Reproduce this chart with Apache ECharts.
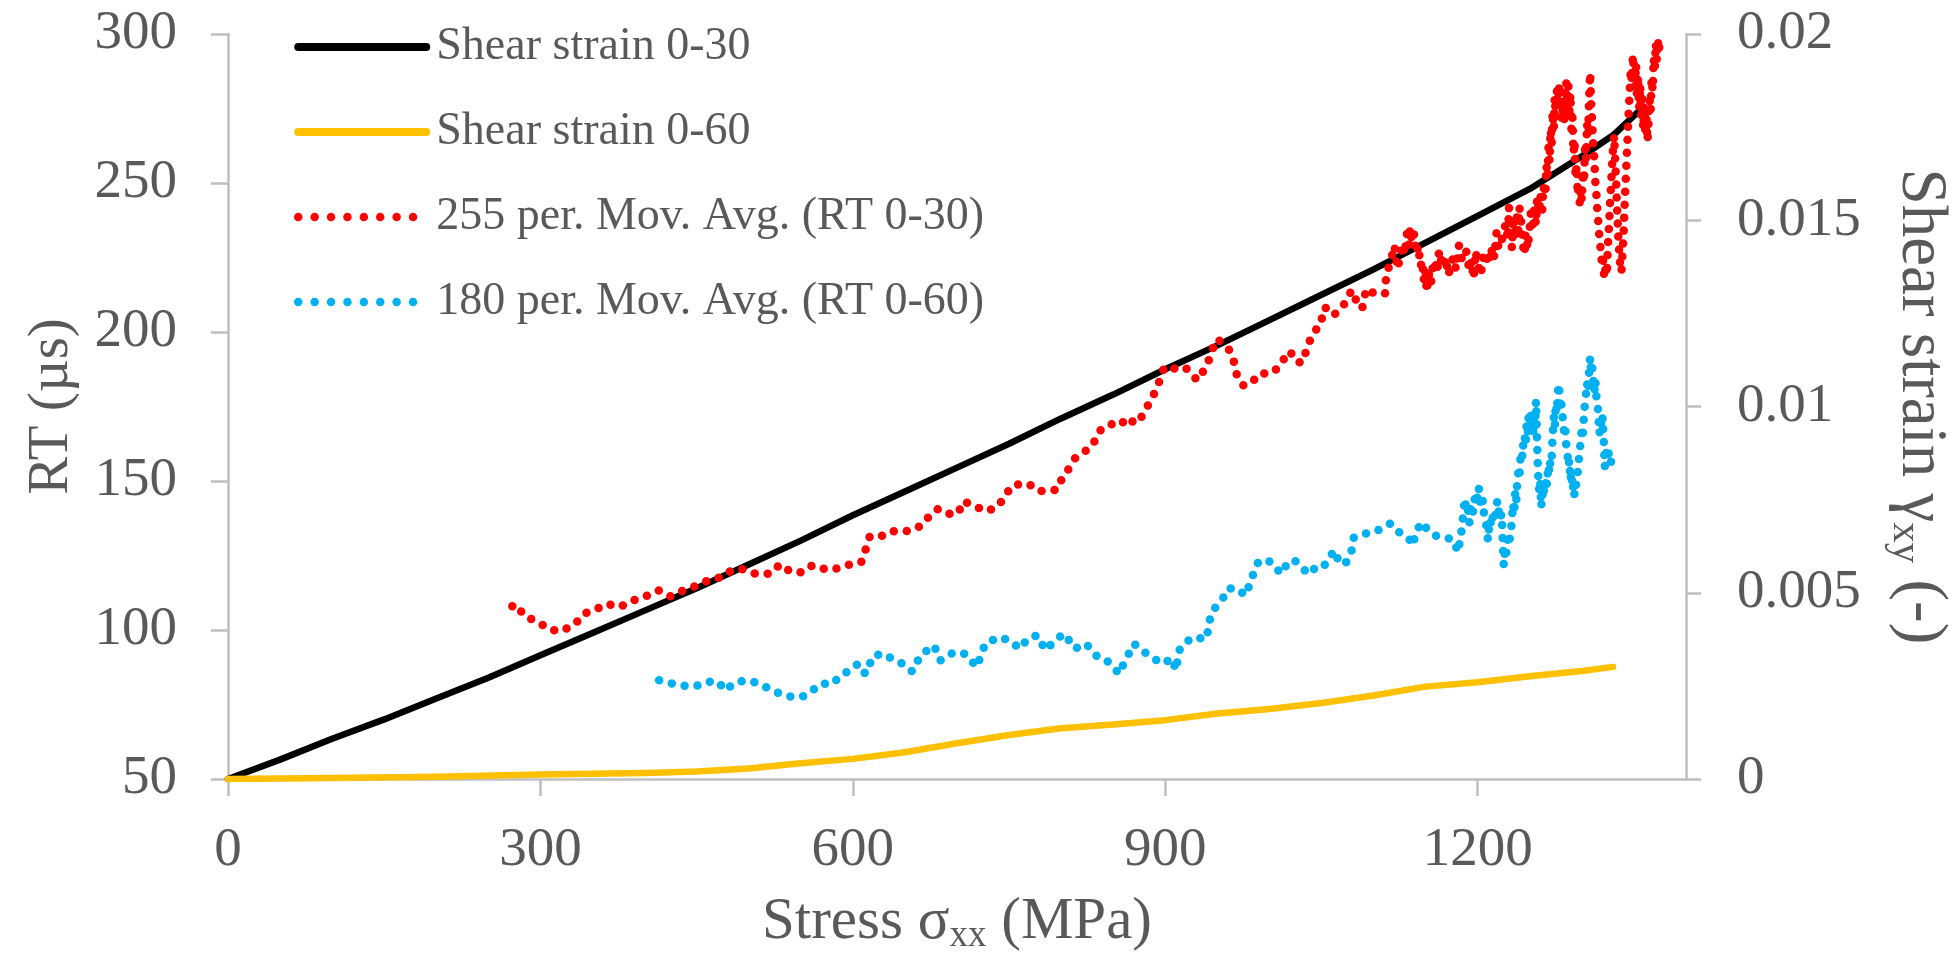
<!DOCTYPE html>
<html>
<head>
<meta charset="utf-8">
<title>RT and shear strain vs. stress</title>
<script src="https://cdn.jsdelivr.net/npm/echarts@6/dist/echarts.min.js"></script>
<style>
  html, body { margin: 0; padding: 0; background: #ffffff; }
  #chart { width: 1952px; height: 955px; }
</style>
</head>
<body>
<div id="chart"></div>
<script>
// ---- Series names ----
const NAME_STRAIN_030 = 'Shear strain 0-30';
const NAME_STRAIN_060 = 'Shear strain 0-60';
const NAME_RT_030 = '255 per. Mov. Avg. (RT 0-30)';
const NAME_RT_060 = '180 per. Mov. Avg. (RT 0-60)';

// ---- Axis ticks ----
const stressTicks = [0, 300, 600, 900, 1200];

// ---- Shear strain 0-30: [stress (MPa), strain (-)] ----
const strain030 = [
  [0, 0], [50, 0.00052], [100, 0.00108], [150, 0.0016], [200, 0.00216],
  [250, 0.00272], [300, 0.00332], [350, 0.00392], [400, 0.00452], [450, 0.00512],
  [500, 0.00576], [550, 0.0064], [600, 0.00708], [650, 0.00772], [700, 0.00836],
  [750, 0.009], [800, 0.00968], [850, 0.01032], [900, 0.011], [950, 0.01164],
  [1000, 0.01232], [1050, 0.013], [1100, 0.01368], [1150, 0.0144], [1200, 0.01512],
  [1250, 0.01584], [1300, 0.01672], [1330, 0.01728], [1356, 0.01796]
];

// ---- Shear strain 0-60: [stress (MPa), strain (-)] ----
const strain060 = [
  [0, 0], [100, 0.00003], [200, 0.00006], [300, 0.00012], [400, 0.00016],
  [450, 0.0002], [500, 0.00028], [550, 0.00042], [600, 0.00054], [650, 0.00072],
  [700, 0.00096], [750, 0.00118], [800, 0.00136], [850, 0.00146], [900, 0.00158],
  [950, 0.00176], [1000, 0.00188], [1050, 0.00204], [1100, 0.00224], [1150, 0.00248],
  [1200, 0.0026], [1250, 0.00276], [1300, 0.0029], [1330, 0.00301]
];

// ---- 255 per. moving average of RT 0-30: [stress (MPa), RT (µs)] ----
const rtAvg030 = [
  [273, 108], [277, 108.6], [284, 104.9], [298, 102.6], [309, 100.1], [320, 99.6],
  [333, 101.9], [342, 105.5], [354, 107.1], [364, 108.8], [376, 107.7], [391, 110.2],
  [401, 111.3], [414, 113.3], [425, 111.3], [433, 112.7], [445, 114.2], [457, 116.1],
  [471, 117.5], [479, 119.4], [492, 120.6], [506, 118.9], [521, 118.9], [530, 122],
  [541, 119.4], [552, 119.4], [561, 121.7], [570, 120.6], [580, 120.2], [596, 121.9],
  [608, 122.8], [613, 127.8], [616, 131.2], [625, 131], [635, 133.1], [647, 133.1],
  [656, 133.4], [666, 135.1], [674, 138.5], [682, 140.7], [696, 138.5], [702, 139.9],
  [706, 143.2], [718, 141.5], [727, 139.9], [737, 140.9], [745, 144.1], [752, 148.3],
  [764, 149.3], [774, 148.2], [779, 146.6], [787, 146.8], [796, 147], [800, 150.2],
  [808, 154.5], [813, 157.5], [819, 158.9], [825, 160.5], [831, 162.3], [834, 165.3],
  [839, 167.5], [846, 168.3], [851, 169.8], [858, 169.2], [864, 171.3], [871, 169.2],
  [876, 170.9], [881, 173.7], [884, 175.9], [890, 179.8], [896, 184.9], [899, 188.2],
  [908, 187.7], [919, 188.2], [926, 185.4], [931, 183.8], [935, 186], [941, 189.6],
  [944, 193.3], [950, 197.7], [955, 196.1], [962, 193.8], [966, 189.9], [969, 185.1],
  [975, 182.1], [981, 184], [990, 184], [997, 186.9], [1006, 187.3], [1014, 191],
  [1020, 193.6], [1024, 190.5], [1031, 189.6], [1035, 193.3], [1037, 195.8], [1043, 200],
  [1050, 203], [1051, 207.8], [1058, 208.4], [1063, 206.1], [1071, 208.9], [1079, 214],
  [1084, 210], [1089, 207.8], [1093, 214.5], [1101, 212.9], [1111, 212.9], [1112, 218.4],
  [1115, 222.3], [1118, 226], [1120, 229], [1123, 221.2], [1126, 226], [1128, 229.6],
  [1130, 226], [1132, 233], [1134, 229], [1135, 235], [1137, 230.2], [1139, 233],
  [1141, 226.3], [1143, 229], [1145, 222], [1147, 224], [1148, 217.3], [1150, 221],
  [1151, 213.4], [1153, 219.6], [1155, 216], [1157, 222], [1159, 224], [1161, 220],
  [1163, 227.4], [1165, 224], [1167, 221.8], [1169, 225], [1172, 219], [1174, 223],
  [1177, 225.1], [1179, 221], [1182, 229], [1184, 225], [1187, 224], [1189, 227],
  [1192, 220.7], [1194, 224], [1196, 218], [1198, 227.1], [1200, 223], [1203, 219],
  [1205, 225], [1208, 222.7], [1210, 227], [1212, 224], [1214, 228.5], [1216, 225],
  [1218, 233.2], [1220, 228], [1223, 230.7], [1225, 234], [1227, 236.3], [1229, 231],
  [1230, 241.9], [1231, 232], [1233, 228], [1234, 237], [1236, 231], [1237, 240],
  [1239, 234], [1240, 242], [1242, 236], [1243, 230], [1245, 226], [1246, 233],
  [1248, 228], [1250, 235], [1251, 240], [1253, 234], [1254, 241], [1256, 236],
  [1257, 245], [1259, 240], [1260, 246], [1262, 241], [1263, 249], [1265, 246],
  [1266, 256], [1267, 252], [1268, 262], [1269, 257], [1270, 268], [1271, 263],
  [1272, 274], [1273, 268], [1274, 279], [1275, 272], [1276, 281], [1277, 276],
  [1278, 283], [1279, 275], [1280, 281], [1281, 271], [1282, 278], [1283, 270],
  [1284, 280], [1285, 284], [1286, 277], [1287, 283], [1288, 274], [1289, 280],
  [1290, 268], [1291, 272], [1292, 260], [1293, 264], [1294, 252], [1295, 256],
  [1296, 246], [1297, 250], [1298, 243], [1299, 248], [1300, 244], [1301, 254],
  [1302, 250], [1303, 262], [1304, 258], [1305, 270], [1306, 266], [1307, 279],
  [1308, 287], [1309, 276], [1310, 270], [1311, 262], [1312, 258], [1313, 250],
  [1314, 246], [1315, 240], [1316, 236], [1317, 231], [1318, 228], [1319, 224],
  [1320, 226], [1321, 220], [1322, 218], [1323, 223], [1324, 219], [1325, 229],
  [1326, 235], [1327, 243], [1328, 249], [1329, 256], [1330, 262], [1331, 266],
  [1332, 258], [1333, 250], [1334, 240], [1335, 232], [1336, 226], [1337, 222],
  [1338, 220], [1339, 226], [1340, 232], [1341, 242], [1342, 250], [1343, 258],
  [1344, 266], [1345, 274], [1346, 281], [1347, 288], [1348, 284], [1349, 293],
  [1350, 287], [1351, 282], [1352, 290], [1353, 278], [1354, 286], [1355, 275],
  [1356, 283], [1357, 272], [1358, 279], [1359, 268], [1360, 276], [1361, 266],
  [1362, 272], [1363, 264], [1364, 270], [1365, 278], [1366, 274], [1367, 285],
  [1368, 281], [1369, 292], [1370, 288], [1371, 297], [1372, 291], [1373, 298],
  [1374, 294], [1375, 299.5]
];

// ---- 180 per. moving average of RT 0-60: [stress (MPa), RT (µs)] ----
const rtAvg060 = [
  [414, 83.1], [427, 82], [441, 81.1], [453, 81.4], [463, 82.7], [470, 82.8],
  [478, 79.7], [485, 82], [496, 83.1], [509, 82.2], [517, 80.8], [526, 79.2],
  [535, 78], [543, 77.5], [551, 77.5], [558, 78.8], [569, 82], [581, 82],
  [588, 84.8], [599, 86.7], [605, 88.7], [612, 85.3], [620, 91.5], [631, 92],
  [639, 89.8], [648, 88.7], [657, 86.1], [665, 91.5], [678, 94.8], [684, 89.8],
  [697, 92.6], [708, 92], [719, 87.6], [727, 95.4], [740, 97.6], [751, 96.5],
  [760, 93.7], [768, 97.1], [777, 98.2], [785, 93.2], [794, 96.5], [803, 98.8],
  [813, 93.7], [824, 95.4], [833, 91.5], [842, 90.4], [856, 85.3], [860, 88.7],
  [870, 95.4], [877, 93.4], [884, 91.5], [897, 88.7], [907, 90.4], [910, 86.4],
  [914, 93.7], [925, 97.4], [940, 97.1], [941, 100.4], [943, 103.8], [949, 108.3],
  [956, 111], [960, 113.9], [969, 113.9], [977, 111.6], [980, 114.4], [984, 118.3],
  [988, 122.2], [993, 123.6], [1002, 122.8], [1011, 118.9], [1017, 122.2], [1023, 123.6],
  [1030, 121.7], [1037, 118.7], [1045, 121.1], [1052, 121.1], [1056, 124], [1063, 126.7],
  [1067, 122.2], [1074, 122.8], [1080, 127.6], [1081, 131], [1092, 132.3], [1100, 132.9],
  [1111, 134.5], [1116, 135.7], [1124, 132.9], [1133, 131.2], [1138, 128.4], [1140, 132.3],
  [1146, 136.2], [1151, 134], [1159, 131.7], [1170, 131], [1177, 130.1], [1181, 126.1],
  [1183, 130], [1184, 131.7], [1185, 136], [1186, 138], [1187, 142], [1188, 144.1],
  [1189, 139], [1191, 140.1], [1192, 136], [1193, 141], [1195, 138.5], [1197, 144],
  [1199, 142], [1200, 146], [1201, 148], [1203, 141], [1205, 143.5], [1206, 139],
  [1208, 136], [1209, 132], [1210, 130.1], [1211, 135], [1212, 134], [1213, 139],
  [1214, 139], [1216, 136], [1218, 142], [1219, 143.5], [1221, 137], [1223, 139],
  [1224, 130], [1225, 121.7], [1226, 126], [1227, 124], [1228, 127.8], [1229, 131],
  [1230, 129], [1232, 133.4], [1233, 138], [1234, 142.4], [1235, 139], [1236, 146],
  [1237, 143], [1238, 149.6], [1239, 153], [1240, 151], [1241, 157.5], [1242, 160],
  [1243, 158], [1244, 164], [1245, 165.3], [1246, 162], [1247, 169], [1248, 166],
  [1249, 172], [1250, 168], [1251, 174], [1252, 170], [1253, 165], [1254, 172],
  [1255, 168], [1256, 177], [1257, 163], [1258, 152.4], [1259, 147], [1260, 150],
  [1261, 141.2], [1262, 146], [1263, 144], [1264, 149], [1265, 150.2], [1266, 147],
  [1267, 153], [1268, 151], [1269, 157], [1270, 155], [1271, 158], [1272, 165],
  [1273, 171.4], [1274, 168], [1275, 176], [1276, 173], [1277, 180], [1278, 182.6],
  [1279, 176], [1280, 178], [1281, 172], [1282, 170.9], [1283, 166], [1284, 168],
  [1285, 162], [1286, 160.3], [1287, 155], [1288, 157], [1289, 150.2], [1290, 153],
  [1291, 147], [1292, 149], [1293, 145], [1294, 144.6], [1295, 150], [1296, 153],
  [1297, 156.9], [1298, 160], [1299, 164], [1300, 168.1], [1301, 166], [1302, 172],
  [1303, 176], [1304, 179.3], [1305, 183], [1306, 180], [1307, 187], [1308, 191.6],
  [1309, 186], [1310, 188], [1311, 183.8], [1312, 180], [1313, 184], [1314, 178],
  [1315, 177], [1316, 171], [1317, 165.9], [1318, 170], [1319, 168], [1320, 171.4],
  [1321, 164], [1322, 154.7], [1323, 158], [1324, 161.4], [1325, 157], [1326, 160],
  [1327, 158], [1328, 156.4]
];

// ---- Styling ----
const FONT = '"Liberation Serif", "Times New Roman", serif';
const TEXT_GREY = '#595959';
const AXIS_GREY = '#bfbfbf';
const BLACK = '#000000';
const GOLD = '#FFC000';
const RED = '#FF0000';
const CYAN = '#00B0F0';

const axisLine = { show: true, lineStyle: { color: AXIS_GREY, width: 2.5 } };
const tickStyle = { color: AXIS_GREY, width: 2.5 };
const labelStyle = { fontFamily: FONT, fontSize: 55, color: TEXT_GREY };
const dotLine = { width: 8.5, type: [0, 13], cap: 'round', join: 'round' };

function nameRich(size) {
  return {
    t: { fontFamily: FONT, fontSize: size, color: TEXT_GREY, lineHeight: Math.round(size * 1.12) },
    s: { fontFamily: FONT, fontSize: Math.round(size * 0.63), color: TEXT_GREY,
         lineHeight: Math.round(size * 0.63), verticalAlign: 'bottom' }
  };
}

const chart = echarts.init(document.getElementById('chart'), null, { renderer: 'canvas' });

chart.setOption({
  animation: false,
  backgroundColor: '#ffffff',
  textStyle: { fontFamily: FONT },
  grid: { left: 228, right: 266, top: 34, bottom: 176, containLabel: false, outerBoundsMode: 'none' },
  legend: {
    orient: 'vertical',
    left: 294,
    top: 24,
    padding: 0,
    itemWidth: 128,
    itemHeight: 14,
    itemGap: 39,
    selectedMode: false,
    itemStyle: { opacity: 0 },
    textStyle: { fontFamily: FONT, fontSize: 46, color: TEXT_GREY, lineHeight: 46, padding: [0, 0, 0, 5] },
    data: [
      { name: NAME_STRAIN_030, lineStyle: { width: 8, cap: 'round' } },
      { name: NAME_STRAIN_060, lineStyle: { width: 8, cap: 'round' } },
      { name: NAME_RT_030, lineStyle: { width: 8.5, type: [0, 16.4], cap: 'round' } },
      { name: NAME_RT_060, lineStyle: { width: 8.5, type: [0, 16.4], cap: 'round' } }
    ]
  },
  xAxis: {
    type: 'value',
    min: 0,
    max: 1400,
    interval: 300,
    name: '{t|Stress σ}{s|xx}{t| (MPa)}',
    nameLocation: 'middle',
    nameGap: 110,
    nameTextStyle: { rich: nameRich(59) },
    axisLine: axisLine,
    axisTick: { show: true, inside: false, length: 17, lineStyle: tickStyle, customValues: stressTicks },
    axisLabel: Object.assign({ margin: 44, customValues: stressTicks, formatter: v => String(v) }, labelStyle),
    splitLine: { show: false }
  },
  yAxis: [
    {
      type: 'value',
      position: 'left',
      min: 50,
      max: 300,
      interval: 50,
      name: '{t|RT (µs)}',
      nameLocation: 'middle',
      nameRotate: 90,
      nameGap: 144,
      nameTextStyle: { rich: nameRich(57) },
      axisLine: axisLine,
      axisTick: { show: true, inside: false, length: 17, lineStyle: tickStyle },
      axisLabel: Object.assign({ margin: 51, formatter: v => String(v) }, labelStyle),
      splitLine: { show: false }
    },
    {
      type: 'value',
      position: 'right',
      min: 0,
      max: 0.02,
      interval: 0.005,
      name: '{t|Shear strain γ}{s|xy}{t| (-)}',
      nameLocation: 'middle',
      nameRotate: -90,
      nameGap: 198,
      nameTextStyle: { rich: nameRich(65) },
      axisLine: axisLine,
      axisTick: { show: true, inside: false, length: 15, lineStyle: tickStyle },
      axisLabel: Object.assign({ margin: 51 }, labelStyle),
      splitLine: { show: false }
    }
  ],
  series: [
    {
      name: NAME_STRAIN_030,
      type: 'line',
      yAxisIndex: 1,
      data: strain030,
      symbol: 'none',
      itemStyle: { color: BLACK },
      lineStyle: { color: BLACK, width: 6.5, cap: 'round', join: 'round' }
    },
    {
      name: NAME_STRAIN_060,
      type: 'line',
      yAxisIndex: 1,
      data: strain060,
      symbol: 'none',
      itemStyle: { color: GOLD },
      lineStyle: { color: GOLD, width: 6.5, cap: 'round', join: 'round' }
    },
    {
      name: NAME_RT_030,
      type: 'line',
      yAxisIndex: 0,
      data: rtAvg030,
      symbol: 'none',
      itemStyle: { color: RED },
      lineStyle: Object.assign({ color: RED }, dotLine)
    },
    {
      name: NAME_RT_060,
      type: 'line',
      yAxisIndex: 0,
      data: rtAvg060,
      symbol: 'none',
      itemStyle: { color: CYAN },
      lineStyle: Object.assign({ color: CYAN }, dotLine)
    }
  ]
});
</script>
</body>
</html>
